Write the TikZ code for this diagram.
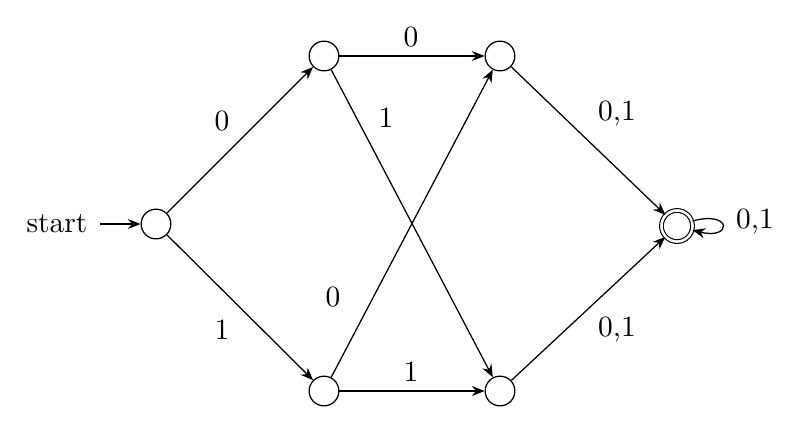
\documentclass[tikz,border=0pt]{standalone}
\usetikzlibrary{arrows.meta}
\begin{document}
\begin{tikzpicture}[x=0.01255cm,y=-0.01255cm,
  state/.style={circle,draw,line width=0.45pt,minimum size=10.6pt,inner sep=0pt},
  accstate/.style={circle,draw,double,double distance=0.9pt,line width=0.4pt,minimum size=11.1pt,inner sep=0pt},
  lbl/.style={inner sep=0pt,font=\fontsize{10.5}{12}\selectfont},
  tr/.style={-{Stealth[length=4.5pt,width=3.6pt]},line width=0.45pt}]
\useasboundingbox (0,0) rectangle (800,422);
\node[state] (q0) at (156,224) {};
\node[state] (q1) at (324,56) {};
\node[state] (q2) at (500,56) {};
\node[state] (q3) at (324,391) {};
\node[state] (q4) at (500,391) {};
\node[accstate] (q5) at (677,226) {};
\node[lbl,anchor=base] (st) at (57,232) {start};
\coordinate (sa) at (100,224);
\draw[tr] (sa) -- (q0);
\draw[tr] (q0) -- (q1);
\draw[tr] (q0) -- (q3);
\draw[tr] (q1) -- (q2);
\draw[tr] (q1) -- (q4);
\draw[tr] (q3) -- (q2);
\draw[tr] (q3) -- (q4);
\draw[tr] (q2) -- (q5);
\draw[tr] (q4) -- (q5);
\draw[tr] (q5.18) .. controls +(40,-11) and +(40,10) .. (q5.-15);
\node[lbl] (l1) at (222,121) {0};
\node[lbl] (l2) at (222,330) {1};
\node[lbl] (l3) at (411,37) {0};
\node[lbl] (l4) at (386,118) {1};
\node[lbl] (l5) at (617,114) {0,1};
\node[lbl] (l6) at (333,297) {0};
\node[lbl] (l7) at (411,372) {1};
\node[lbl] (l8) at (617,330) {0,1};
\node[lbl] (l9) at (755,222) {0,1};
\end{tikzpicture}
\end{document}
